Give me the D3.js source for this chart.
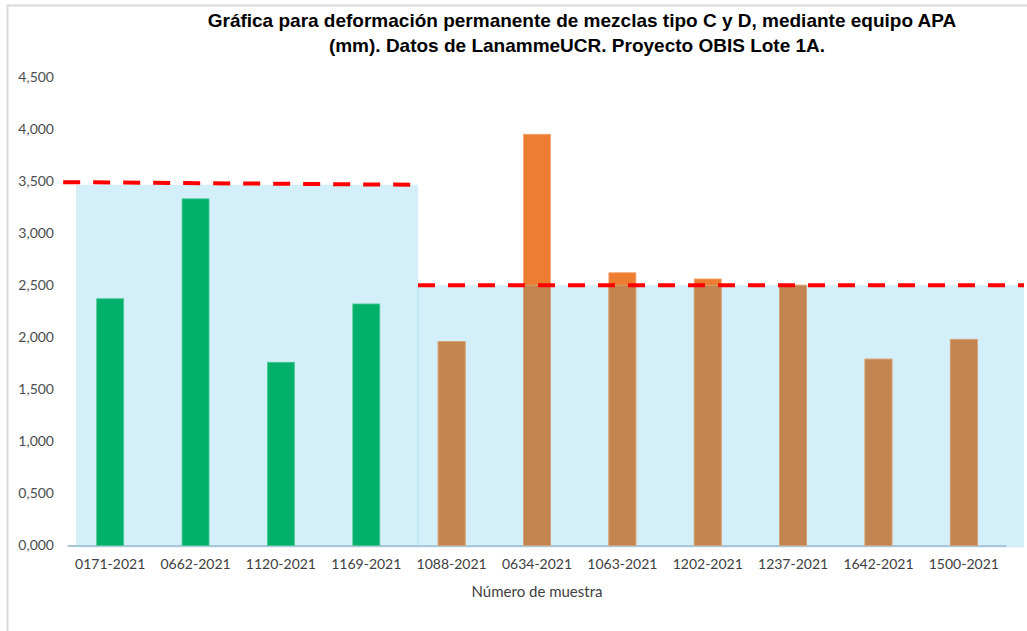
<!DOCTYPE html>
<html>
<head>
<meta charset="utf-8">
<script src="https://cdn.jsdelivr.net/npm/d3@7"></script>
<style>
  body { margin: 0; background: #fff; }
  svg { display: block; }
</style>
</head>
<body>
<svg id="chart" width="1027" height="631"></svg>
<script>
// sample ids, in chart order
const samples = ["0171-2021", "0662-2021", "1120-2021", "1169-2021", "1088-2021",
  "0634-2021", "1063-2021", "1202-2021", "1237-2021", "1642-2021", "1500-2021"];
// deformation (mm)
const deformation = [2.37, 3.33, 1.76, 2.32, 1.96, 3.95, 2.62, 2.56, 2.50, 1.79, 1.98];
// mix type of each sample (C = green, D = orange)
const mixType = ["C", "C", "C", "C", "D", "D", "D", "D", "D", "D", "D"];
// background zones: [from index, to index, limit]
const zoneFrom = [0, 4];
const zoneTo = [4, 11];
const zoneLimit = [3.465, 2.5];
// red dashed limit lines, start / end
const limitStartPos = [-0.15, 4];
const limitEndPos = [3.95, 11];
const limitStart = [3.49, 2.5];
const limitEnd = [3.465, 2.5];
const yTicks = [0, 0.5, 1, 1.5, 2, 2.5, 3, 3.5, 4, 4.5];

const title1 = "Gráfica para deformación permanente de mezclas tipo C y D, mediante equipo APA";
const title2 = "(mm).  Datos de LanammeUCR. Proyecto OBIS Lote 1A.";
const xTitle = "Número de muestra";

const svg = d3.select("svg#chart");
const width = 1027;
const height = 631;
const labelFont = "Lato, 'Open Sans', sans-serif";

// chart frame (only top and left edges are visible in the crop)
svg.append("path")
  .attr("d", `M7.5,${height} V5.5 H${width}`)
  .attr("fill", "none")
  .attr("stroke", "#d9d9d9")
  .attr("stroke-width", 2);

const x = d3.scaleBand()
  .domain(samples)
  .range([67.5, 1006.5])
  .paddingInner(0.684)
  .paddingOuter(0.342);

const xCat = d3.scaleBand().domain(samples).range([67.5, 1006.5]);

// background zones sit on their own (secondary) index axis
const xZone = d3.scaleLinear().domain([0, 4, 11]).range([76, 418, 1024]);

const y = d3.scaleLinear().domain([0, 4.5]).range([545.5, 77]);

const zones = zoneFrom.map((f, i) => ({from: f, to: zoneTo[i], v: zoneLimit[i]}));

svg.append("g").attr("id", "zones")
  .selectAll("rect")
  .data(zones)
  .join("rect")
    .attr("x", d => xZone(d.from))
    .attr("width", d => xZone(d.to) - xZone(d.from))
    .attr("y", d => y(d.v))
    .attr("height", d => y(0) + 2 - y(d.v))
    .attr("fill", "#d3effa");

svg.append("line")
  .attr("x1", xZone(4)).attr("x2", xZone(4))
  .attr("y1", y(zoneLimit[1])).attr("y2", y(0) + 2)
  .attr("stroke", "#b0def0")
  .attr("stroke-width", 1);

// x axis line
svg.append("line")
  .attr("x1", 67.5).attr("x2", 1006.5)
  .attr("y1", y(0) + 0.5).attr("y2", y(0) + 0.5)
  .attr("stroke", "#aac7d6")
  .attr("stroke-width", 2);

const bars = samples.map((s, i) => ({name: s, v: deformation[i], type: mixType[i]}));
const level = zoneLimit[1];

const barG = svg.append("g").attr("id", "bars");

// full bars
barG.selectAll("rect.full")
  .data(bars)
  .join("rect")
    .attr("class", "full")
    .attr("x", d => x(d.name))
    .attr("width", x.bandwidth())
    .attr("y", d => y(d.v))
    .attr("height", d => y(0) - y(d.v))
    .attr("fill", d => d.type === "C" ? "#00b06b" : "#ed7d31")
    .attr("stroke", d => d.type === "C" ? "#4cc890" : "#f4a36b")
    .attr("stroke-width", 0.8);

// part of the type D bars that sits inside the blue zone looks brown
barG.selectAll("rect.low")
  .data(bars.filter(d => d.type === "D"))
  .join("rect")
    .attr("class", "low")
    .attr("x", d => x(d.name))
    .attr("width", x.bandwidth())
    .attr("y", d => y(Math.min(d.v, level)))
    .attr("height", d => y(0) - y(Math.min(d.v, level)))
    .attr("fill", "#c38550")
    .attr("stroke", "#d4a37a")
    .attr("stroke-width", 0.8);

// dashed limit lines
const limits = limitStart.map((v, i) => [
  [limitStartPos[i], v], [limitEndPos[i], limitEnd[i]]
]);

svg.append("g").attr("id", "limits")
  .selectAll("path")
  .data(limits)
  .join("path")
    .attr("d", d3.line().x(d => xZone(d[0])).y(d => y(d[1])))
    .attr("fill", "none")
    .attr("stroke", "#ff0000")
    .attr("stroke-width", 4)
    .attr("stroke-dasharray", "17,13");

// y axis (labels only)
const fmt = d => d3.format(".3f")(d).replace(".", ",");
const yAxis = svg.append("g")
  .attr("transform", "translate(67,0)")
  .call(d3.axisLeft(y).tickValues(yTicks).tickFormat(fmt).tickSize(0).tickPadding(13));
yAxis.select(".domain").remove();
yAxis.selectAll("text")
  .attr("font-family", labelFont)
  .attr("font-size", 14)
  .attr("fill", "#4d4d4d");

// x axis labels
const xAxis = svg.append("g")
  .attr("transform", `translate(0,${y(0)})`)
  .call(d3.axisBottom(xCat).tickSize(0).tickPadding(14));
xAxis.select(".domain").remove();
xAxis.selectAll("text")
  .attr("font-family", labelFont)
  .attr("font-size", 14)
  .attr("fill", "#404040");

svg.append("text")
  .attr("x", 537)
  .attr("y", 597)
  .attr("text-anchor", "middle")
  .attr("font-family", labelFont)
  .attr("font-size", 15)
  .attr("fill", "#404040")
  .text(xTitle);

// title
const title = svg.append("g")
  .attr("font-family", "'Liberation Sans', Arial, sans-serif")
  .attr("font-weight", "bold")
  .attr("font-size", 19)
  .attr("fill", "#000");
title.append("text").attr("x", 582).attr("y", 27).attr("text-anchor", "middle").text(title1);
title.append("text").attr("x", 577).attr("y", 52).attr("text-anchor", "middle").text(title2);
</script>
</body>
</html>
